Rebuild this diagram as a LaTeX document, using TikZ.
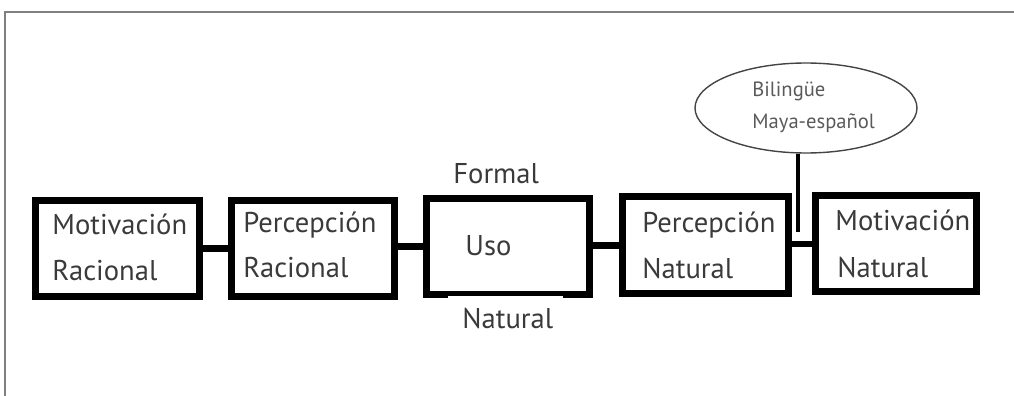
\documentclass[tikz,border=0pt]{standalone}
\usepackage{fontspec}
\setmainfont{PT Sans}
\usetikzlibrary{shapes.geometric}
\definecolor{txtgray}{HTML}{3A3A3A}
\definecolor{elgray}{HTML}{5A5A5A}
\definecolor{framegray}{HTML}{808080}
\definecolor{elline}{HTML}{444444}
\begin{document}
\begin{tikzpicture}[x=0.5pt,y=-0.5pt,
  box/.style={draw=black,line width=3.5pt,inner sep=0pt},
  lbl/.style={anchor=base west,inner sep=0pt,text=txtgray,font=\fontsize{14.3}{17}\selectfont},
  small/.style={anchor=base west,inner sep=0pt,text=elgray,font=\fontsize{10.3}{12}\selectfont},
  link/.style={line width=3.5pt},
  frame/.style={draw=framegray,line width=1pt}]
\useasboundingbox (0,0) rectangle (1014,396);
\draw[frame] (5,396) -- (5,12) -- (1014,12);
% boxes
\node[box,minimum width=82pt,minimum height=48pt] (b1) at (117.5,248.5) {};
\node[box,minimum width=81.5pt,minimum height=48pt] (b2) at (313,248.5) {};
\node[box,minimum width=81.5pt,minimum height=48pt] (b3) at (508,246.5) {};
\node[box,minimum width=83pt,minimum height=48.5pt] (b4) at (705.5,245) {};
\node[box,minimum width=80.5pt,minimum height=48pt] (b5) at (896,243.5) {};
\fill[white] (448,295.5) rectangle (563,300);
% ellipse
\node[ellipse,draw=elline,line width=0.7pt,minimum width=111pt,minimum height=45pt,inner sep=0pt] (el) at (806,108) {};
% connectors
\draw[link] (b1.east) -- (b1.east -| b2.west);
\draw[link] (b2.east |- b3.center) -- ([xshift=2.75pt]b3.west);
\draw[link] (b3.east |- b4.center) -- (b4.west);
\draw[line width=3pt] (b4.east |- b5.center) -- (b5.west);
\coordinate (vt) at (798,232);
\draw[line width=2pt] (el.south -| vt) -- (vt);
% texts
\node[lbl] (t1a) at (52,234) {Motivación};
\node[lbl] (t1b) at (52,280) {Racional};
\node[lbl] (t2a) at (243,232) {Percepción};
\node[lbl] (t2b) at (243,277) {Racional};
\node[lbl] (t3) at (465,255) {Uso};
\node[lbl] (tf) at (453,183) {Formal};
\node[lbl] (tn) at (462,328) {Natural};
\node[lbl] (t4a) at (642,232) {Percepción};
\node[lbl] (t4b) at (642,278) {Natural};
\node[lbl] (t5a) at (835,230) {Motivación};
\node[lbl] (t5b) at (837,277) {Natural};
\node[small] (e1) at (752,97) {Bilingüe};
\node[small] (e2) at (752,128) {Maya-español};
\end{tikzpicture}
\end{document}
